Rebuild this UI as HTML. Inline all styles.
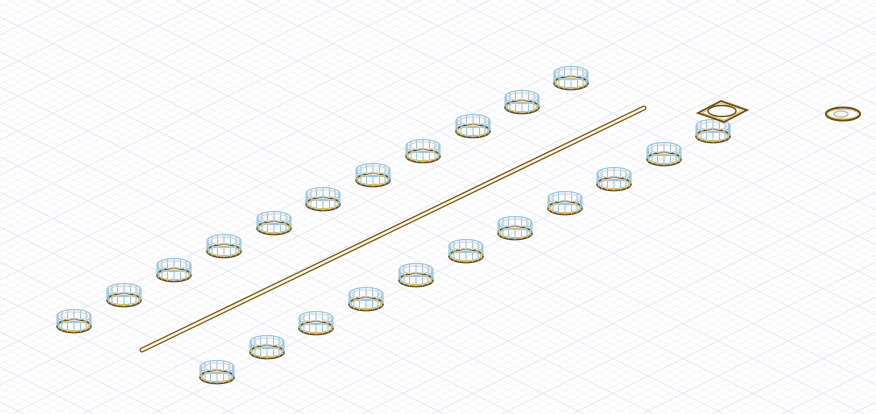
<!DOCTYPE html>
<html><head><meta charset="utf-8"><style>
html,body{margin:0;padding:0;background:#fff;width:876px;height:414px;overflow:hidden}
svg{display:block;overflow:hidden}
</style></head><body>
<svg id="scene" width="876" height="414" viewBox="0 0 876 414" xmlns="http://www.w3.org/2000/svg">
<g id="grid"></g>
<g id="parts"></g>
</svg>
<script>
const upperRowX=[74,124,174,224,274,323,373,423,473,522,571];
const upperRowY=[322,296,271,247,224,200,176,152,127,103,79];
const lowerRowX=[217,267,316,366,416,466,515,565,614,664,713];
const lowerRowY=[373,348,324,300,276,252,229,204,180,155,132];
const NS="http://www.w3.org/2000/svg";
function mk(tag,attrs,parent){const e=document.createElementNS(NS,tag);for(const k in attrs)e.setAttribute(k,attrs[k]);parent.appendChild(e);return e;}
const grid=document.getElementById('grid');
const parts=document.getElementById('parts');
for(let i=0;i<=125;i++){
  const c=i*7;
  const major=(i%5===0);
  const col=major?'#e6e6f5':'#f4f4fa';
  const l1=mk('line',{x1:0,y1:c,x2:876,y2:c-438,stroke:col,'stroke-width':1},grid);
  
  
  const l2=mk('line',{x1:0,y1:c-438,x2:876,y2:c,stroke:col,'stroke-width':1},grid);
  
  
}
function ring(cx,cy,name){
  const g=mk('g',{},parts);
  
  
  const rx=17,ry=6.5,h=10;
  mk('ellipse',{cx:cx,cy:cy+4,rx:rx,ry:ry,fill:'none',stroke:'#6b4e10','stroke-width':1.8},g);
  mk('ellipse',{cx:cx,cy:cy+4,rx:rx-2,ry:ry-2,fill:'none',stroke:'#d8b850','stroke-width':1},g);
  for(let k=0;k<16;k++){
    const a=k/16*Math.PI*2;
    const x=cx+rx*Math.cos(a),y=cy+ry*Math.sin(a);
    mk('line',{x1:x,y1:y+4,x2:x,y2:y+4-h,stroke:'#9cc8e0','stroke-width':1.1},g);
  }
  mk('ellipse',{cx:cx,cy:cy+4-h,rx:rx,ry:ry,fill:'none',stroke:'#9cc8e0','stroke-width':1.3},g);
  mk('ellipse',{cx:cx,cy:cy+4-h,rx:rx-3,ry:ry-2.5,fill:'none',stroke:'#d0d0d0','stroke-width':1},g);
}
const bar=mk('g',{},parts);


mk('line',{x1:142,y1:350,x2:644,y2:108,stroke:'#7a5a14','stroke-width':5,'stroke-linecap':'round'},bar);
mk('line',{x1:142,y1:350,x2:644,y2:108,stroke:'#fbf5e2','stroke-width':2.4,'stroke-linecap':'round'},bar);
for(let i=0;i<upperRowX.length;i++) ring(upperRowX[i],upperRowY[i],'ring-upper-'+(i+1));
for(let i=0;i<lowerRowX.length;i++) ring(lowerRowX[i],lowerRowY[i],'ring-lower-'+(i+1));
const plate=mk('g',{},parts);


mk('polygon',{points:'698,113 721,101 747,110 724,122',fill:'none',stroke:'#6b4e10','stroke-width':1.8},plate);
mk('polygon',{points:'702,113 721,103 743,110 724,120',fill:'none',stroke:'#d8b850','stroke-width':0.8},plate);
mk('ellipse',{cx:722,cy:111,rx:14,ry:5.5,fill:'none',stroke:'#6b4e10','stroke-width':1.4},plate);
const lone=mk('g',{},parts);


mk('ellipse',{cx:843,cy:114,rx:17,ry:6.5,fill:'none',stroke:'#6b4e10','stroke-width':2},lone);
mk('ellipse',{cx:843,cy:114,rx:15,ry:4.8,fill:'none',stroke:'#d8b850','stroke-width':0.8},lone);
mk('ellipse',{cx:841,cy:114,rx:7,ry:3,fill:'none',stroke:'#c0c0c0','stroke-width':1.5},lone);
</script>
</body></html>
